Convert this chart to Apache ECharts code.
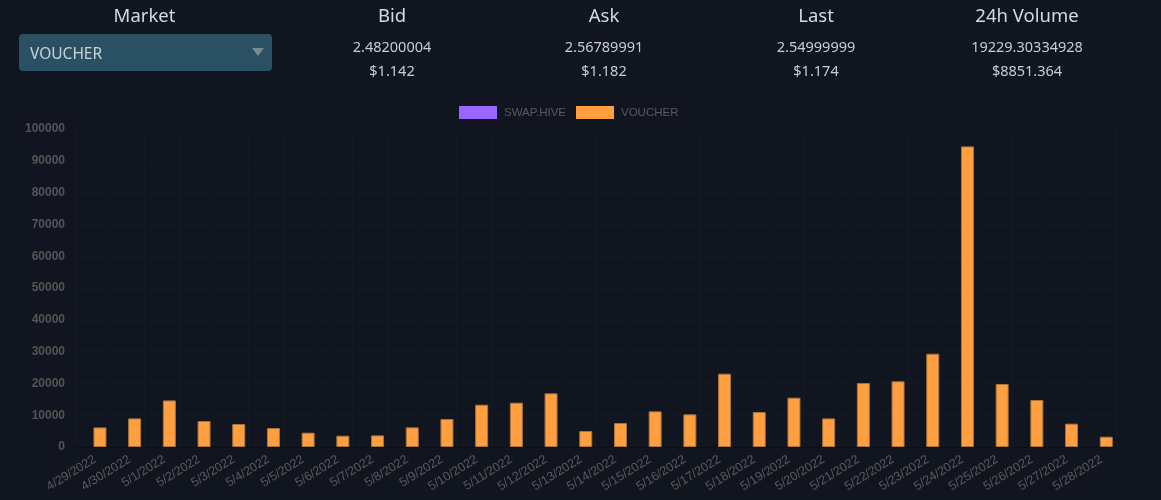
<!DOCTYPE html>
<html>
<head>
<meta charset="utf-8">
<title>VOUCHER market</title>
<style>
  html, body { margin: 0; padding: 0; background: #10151f; }
  #chart { width: 1161px; height: 500px; }
</style>
<script src="https://cdn.jsdelivr.net/npm/echarts@6/dist/echarts.min.js"></script>
</head>
<body>
<div id="chart"></div>
<script>
const categories = ['4/29/2022', '4/30/2022', '5/1/2022', '5/2/2022', '5/3/2022', '5/4/2022', '5/5/2022', '5/6/2022', '5/7/2022', '5/8/2022',
  '5/9/2022', '5/10/2022', '5/11/2022', '5/12/2022', '5/13/2022', '5/14/2022', '5/15/2022', '5/16/2022', '5/17/2022', '5/18/2022',
  '5/19/2022', '5/20/2022', '5/21/2022', '5/22/2022', '5/23/2022', '5/24/2022', '5/25/2022', '5/26/2022', '5/27/2022', '5/28/2022'];
const voucherValues = [6160, 8990, 14650, 8180, 7230, 5970, 4500, 3550, 3650, 6180,
  8800, 13310, 13940, 16880, 5030, 7550, 11210, 10270, 23060, 11010,
  15510, 8990, 20130, 20650, 29340, 94530, 19810, 14780, 7340, 3250];
const swapHiveValues = []; // no bars in the picture, only the legend entry

const headers = ['Market', 'Bid', 'Ask', 'Last', '24h Volume'];
const headerX = [144.5, 392, 604, 816, 1027];
const priceRow = ['2.48200004', '2.56789991', '2.54999999', '19229.30334928'];
const usdRow = ['$1.142', '$1.182', '$1.174', '$8851.364'];

const uiFont = '"Noto Sans", sans-serif';
const chartFont = '"Liberation Sans", Arial, sans-serif';

function centerText(str, x, y, size, color) {
  return {
    type: 'text',
    x: x,
    y: y,
    style: { text: str, fill: color, font: size + 'px ' + uiFont, align: 'center', verticalAlign: 'middle' }
  };
}

// top row: headings, select box, quotes
let elements = [];
headers.forEach(function (h, i) {
  elements.push(centerText(h, headerX[i], 17, 18.5, '#d5dae0'));
});
priceRow.forEach(function (p, i) {
  elements.push(centerText(p, headerX[i + 1], 48, 14.5, '#c8cdd3'));
  elements.push(centerText(usdRow[i], headerX[i + 1], 72, 14.5, '#c8cdd3'));
});
elements.push({
  type: 'rect',
  shape: { x: 19, y: 34, width: 253, height: 37, r: 4 },
  style: { fill: '#2a5064' }
});
elements.push({
  type: 'text',
  x: 30,
  y: 55,
  style: { text: 'VOUCHER', fill: '#c8d3d8', font: '15.5px ' + uiFont, verticalAlign: 'middle' }
});
elements.push({
  type: 'polygon',
  shape: { points: [[252, 48], [264, 48], [258, 56]] },
  style: { fill: '#7f8a8a' }
});

const chart = echarts.init(document.getElementById('chart'));
chart.setOption({
  backgroundColor: '#10151f',
  animation: false,
  graphic: { elements: elements },
  legend: {
    data: ['SWAP.HIVE', 'VOUCHER'],
    icon: 'rect',
    left: 459,
    top: 106,
    padding: 0,
    itemWidth: 38,
    itemHeight: 13,
    itemGap: 10,
    itemStyle: { borderWidth: 0 },
    textStyle: { color: '#5a5a5a', fontSize: 11.5, fontFamily: chartFont, padding: [0, 0, 0, 2] }
  },
  grid: { left: 75, right: 45, top: 129, bottom: 53 },
  xAxis: {
    type: 'category',
    data: categories,
    axisLine: { lineStyle: { color: '#0b0f16' } },
    axisTick: { show: false },
    splitLine: { show: true, interval: 0, lineStyle: { color: '#151922' } },
    axisLabel: { interval: 0, rotate: 32, color: '#5a5a5a', fontSize: 12.5, fontFamily: chartFont, margin: 13, padding: [0, -3, 0, 0] }
  },
  yAxis: {
    type: 'value',
    min: 0,
    max: 100000,
    interval: 10000,
    axisLine: { show: false },
    axisTick: { show: false },
    splitLine: { lineStyle: { color: '#151922' } },
    axisLabel: {
      color: '#555',
      fontSize: 12,
      fontWeight: 'bold',
      fontFamily: chartFont,
      margin: 10,
      formatter: function (v) { return String(v); }
    }
  },
  series: [{
    name: 'SWAP.HIVE',
    type: 'bar',
    data: swapHiveValues,
    barWidth: 13,
    barGap: '17%',
    itemStyle: { color: '#9966ff' }
  }, {
    name: 'VOUCHER',
    type: 'bar',
    data: voucherValues,
    barWidth: 13,
    barGap: '17%',
    itemStyle: { color: '#ff9f40', borderColor: '#a8743c', borderWidth: 1 }
  }]
});
</script>
</body>
</html>
